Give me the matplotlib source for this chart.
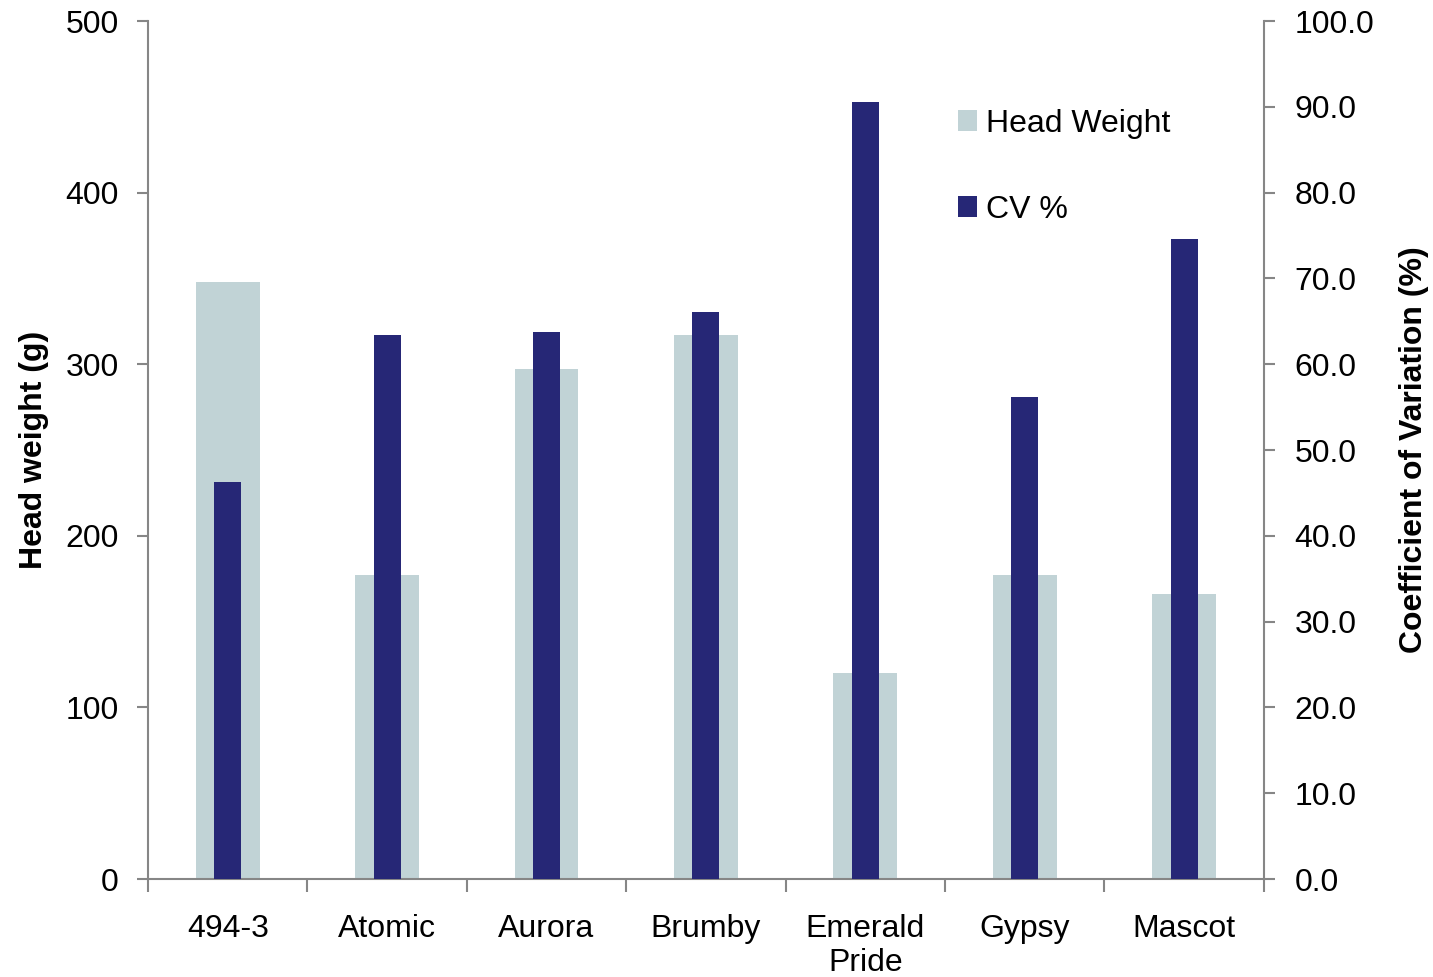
import matplotlib
matplotlib.use("Agg")
import matplotlib.pyplot as plt
import numpy as np

categories = ["494-3", "Atomic", "Aurora", "Brumby", "Emerald\nPride", "Gypsy", "Mascot"]
head_weight = [348, 177, 297, 317, 120, 177, 166]
cv_pct = [46.3, 63.4, 63.7, 66.1, 90.6, 56.2, 74.6]

plt.rcParams['font.family'] = ['Liberation Sans', 'DejaVu Sans']

fig = plt.figure(figsize=(14.33, 9.77), dpi=100)
ax = fig.add_axes([0.1033, 0.1003, 0.7786, 0.8782])
ax2 = ax.twinx()

x = np.arange(len(categories))
light = "#C1D3D6"
dark = "#262776"
spine_c = "#868686"
fs = 23

ax.bar(x, head_weight, width=0.40, color=light, label="Head Weight", zorder=1)
ax2.bar(x, cv_pct, width=0.17, color=dark, label="CV %", zorder=2)

ax.set_xlim(-0.5, len(categories) - 0.5)
ax.set_ylim(0, 500)
ax2.set_ylim(0, 100)
ax.set_yticks(np.arange(0, 501, 100))
ax2.set_yticks(np.arange(0, 101, 10))
ax2.set_yticklabels([f"{v:.1f}" for v in np.arange(0, 101, 10)])

ax.set_xticks(np.arange(-0.5, len(categories), 1.0))
ax.set_xticklabels([])
ax.set_xticks(x, minor=True)
ax.set_xticklabels(categories, minor=True, fontsize=fs, linespacing=1.2)
ax.tick_params(axis='x', which='minor', length=0, pad=25)
ax.tick_params(axis='x', which='major', length=9, width=1.5, color=spine_c, direction='out')

ax.tick_params(axis='y', labelsize=fs, length=8, width=1.5, color=spine_c, pad=13, direction='out')
ax2.tick_params(axis='y', labelsize=fs, length=8, width=1.5, color=spine_c, pad=14, direction='out')

for a in (ax, ax2):
    a.spines['top'].set_visible(False)
    for s in ('left', 'right', 'bottom'):
        a.spines[s].set_color(spine_c)
        a.spines[s].set_linewidth(1.5)
ax.spines['right'].set_visible(False)
ax2.spines['left'].set_visible(False)
ax2.spines['bottom'].set_visible(False)

ax.set_ylabel("Head weight (g)", fontsize=fs, fontweight='bold', labelpad=12)
ax2.set_ylabel("Coefficient of Variation (%)", fontsize=fs, fontweight='bold', labelpad=18)

h1, l1 = ax.get_legend_handles_labels()
h2, l2 = ax2.get_legend_handles_labels()
leg = ax2.legend(h1 + h2, l1 + l2, loc='upper left', bbox_to_anchor=(0.7142, 0.9126),
                 frameon=False, fontsize=fs, handlelength=0.6, handleheight=0.6,
                 handletextpad=0.28, labelspacing=1.75, borderaxespad=0)

fig.savefig("out.png", dpi=100)
